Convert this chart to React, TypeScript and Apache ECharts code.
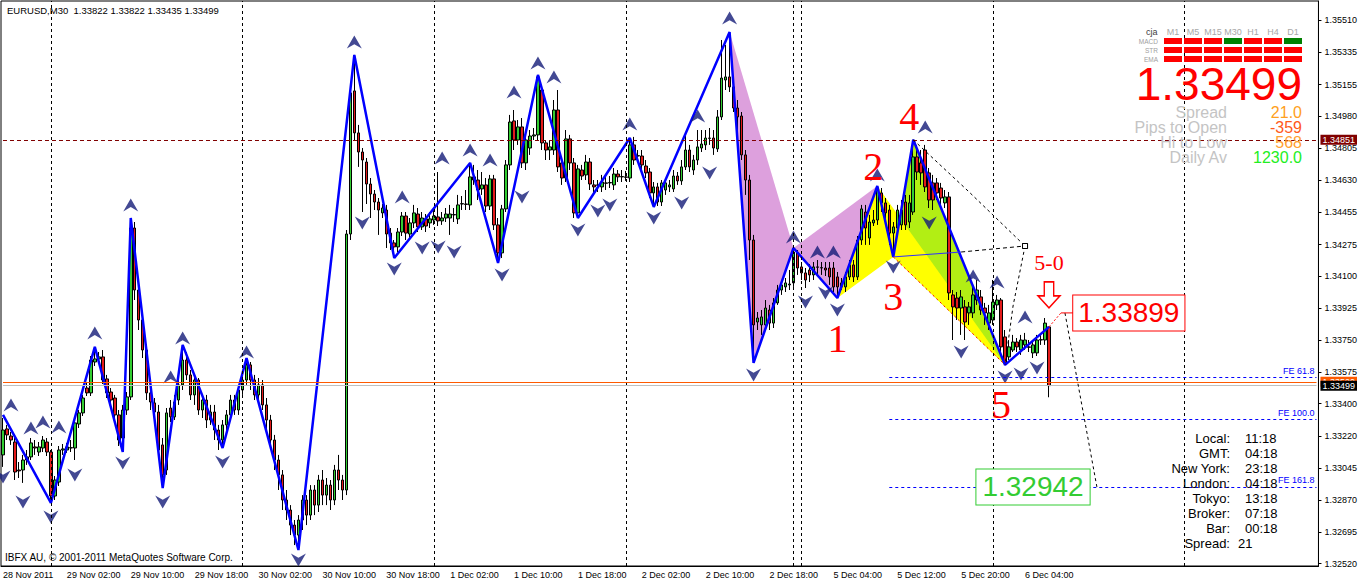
import { useEffect, useRef } from "react";
import * as echarts from "echarts";

const SANS = '"Liberation Sans", Arial, sans-serif';
const SERIF = '"Liberation Serif", "Times New Roman", serif';

const symbolTitle = "EURUSD,M30  1.33822 1.33822 1.33435 1.33499";
const copyright = "IBFX AU, \u00A9 2001-2011 MetaQuotes Software Corp.";

const TOTAL_BARS = 330;
const LABEL_EVERY = 16;
const timeLabels = [
  "28 Nov 2011", "29 Nov 02:00", "29 Nov 10:00", "29 Nov 18:00", "30 Nov 02:00",
  "30 Nov 10:00", "30 Nov 18:00", "1 Dec 02:00", "1 Dec 10:00", "1 Dec 18:00",
  "2 Dec 02:00", "2 Dec 10:00", "2 Dec 18:00", "5 Dec 04:00", "5 Dec 12:00",
  "5 Dec 20:00", "6 Dec 04:00",
];
const priceTicks = [
  1.3252, 1.32695, 1.3287, 1.33045, 1.3322, 1.334, 1.33575, 1.3375, 1.33925,
  1.341, 1.34275, 1.34455, 1.3463, 1.34805, 1.3498, 1.35155, 1.35335, 1.3551,
];

// [open, close, low, high]
const candles = [
  [1.33118,1.33255,1.33052,1.33321],[1.33261,1.33228,1.332,1.33283],[1.33222,1.332,1.33173,1.33244],[1.33189,1.33024,1.3298,1.33211],
  [1.33035,1.3303,1.32991,1.33079],[1.33035,1.3309,1.32964,1.33118],[1.3309,1.33107,1.33063,1.33145],[1.33107,1.33184,1.3309,1.33211],
  [1.33162,1.33156,1.33118,1.332],[1.33134,1.33162,1.33112,1.33189],[1.33156,1.332,1.33134,1.33222],[1.33189,1.33134,1.33112,1.33211],
  [1.33134,1.32892,1.32854,1.33145],[1.32892,1.3298,1.3287,1.33002],[1.32969,1.33145,1.32947,1.33167],[1.33145,1.33151,1.33118,1.33178],
  [1.33145,1.33162,1.33129,1.33184],[1.33156,1.33158,1.33134,1.332],[1.33156,1.33294,1.3309,1.3331],[1.33288,1.33349,1.33266,1.33365],
  [1.33349,1.33431,1.33332,1.33448],[1.33486,1.33459,1.33442,1.33514],[1.33459,1.3364,1.33442,1.33662],[1.33629,1.33646,1.33607,1.33712],
  [1.33646,1.33657,1.33629,1.33684],[1.33657,1.3353,1.33508,1.33695],[1.33536,1.33459,1.33431,1.33558],[1.33464,1.3342,1.33398,1.33486],
  [1.33431,1.33338,1.3331,1.33448],[1.33338,1.332,1.33167,1.33365],[1.33211,1.33365,1.33134,1.33393],[1.33365,1.33437,1.33338,1.33464],
  [1.33437,1.34366,1.3342,1.34421],[1.34366,1.34025,1.3397,1.34399],[1.34025,1.3386,1.33805,1.34069],[1.3386,1.33695,1.33651,1.33904],
  [1.33695,1.33459,1.3342,1.33723],[1.33459,1.33409,1.33365,1.33486],[1.33404,1.33354,1.33321,1.33431],[1.33354,1.33145,1.33101,1.33393],
  [1.33173,1.33008,1.32936,1.33211],[1.33035,1.33349,1.33008,1.33376],[1.33376,1.33327,1.33299,1.3342],[1.33327,1.33409,1.3331,1.33448],
  [1.3342,1.33503,1.33393,1.3353],[1.33503,1.3364,1.33475,1.33723],[1.3364,1.33558,1.3353,1.33684],[1.33558,1.33448,1.3342,1.33585],
  [1.33448,1.3353,1.33393,1.33558],[1.3353,1.33365,1.33338,1.33541],[1.33365,1.3342,1.33321,1.33448],[1.3342,1.3331,1.33266,1.33448],
  [1.3331,1.33354,1.33283,1.33393],[1.33354,1.33255,1.332,1.33393],[1.33255,1.332,1.33145,1.33283],[1.332,1.33283,1.33156,1.3331],
  [1.33283,1.33338,1.33255,1.33365],[1.33338,1.3342,1.3331,1.33448],[1.3342,1.33365,1.33338,1.33448],[1.33365,1.33475,1.33338,1.33503],
  [1.33475,1.3353,1.33448,1.33574],[1.3353,1.33613,1.33503,1.33651],[1.33613,1.3353,1.33475,1.33629],[1.3353,1.33448,1.3342,1.33558],
  [1.33448,1.33503,1.33393,1.33541],[1.33503,1.33393,1.33365,1.3353],[1.33393,1.3331,1.33255,1.33431],[1.3331,1.332,1.33156,1.33338],
  [1.332,1.3309,1.33035,1.33228],[1.3309,1.33008,1.32925,1.33118],[1.33008,1.3287,1.32815,1.33035],[1.3287,1.32815,1.3276,1.32925],
  [1.32815,1.32732,1.32677,1.32842],[1.32732,1.32677,1.32622,1.3276],[1.32677,1.3276,1.32595,1.32787],[1.3276,1.3287,1.32705,1.32897],
  [1.3287,1.32787,1.32732,1.32897],[1.32787,1.32925,1.3276,1.32952],[1.32925,1.32842,1.32787,1.32952],[1.32842,1.3298,1.32804,1.33008],
  [1.3298,1.32897,1.32842,1.33035],[1.32897,1.32952,1.32842,1.32991],[1.32952,1.3287,1.32815,1.3298],[1.3287,1.33035,1.32842,1.33063],
  [1.33035,1.3298,1.32925,1.33118],[1.3298,1.32925,1.3287,1.33008],[1.32925,1.34333,1.32897,1.34355],[1.34333,1.35109,1.343,1.35153],
  [1.3512,1.34889,1.3485,1.35318],[1.34889,1.34784,1.34702,1.34933],[1.34784,1.3474,1.34454,1.34806],[1.34729,1.34608,1.34498,1.34751],
  [1.34608,1.34553,1.34421,1.34641],[1.34553,1.34509,1.34465,1.34575],[1.34509,1.34465,1.34328,1.34531],[1.34449,1.34476,1.34421,1.34498],
  [1.34465,1.34333,1.34256,1.34493],[1.34338,1.34284,1.34245,1.34366],[1.34284,1.34262,1.34201,1.343],[1.34262,1.34344,1.34234,1.34366],
  [1.34344,1.34432,1.34322,1.34454],[1.34432,1.34338,1.343,1.34454],[1.34333,1.34394,1.34311,1.34421],[1.34394,1.34449,1.34366,1.34493],
  [1.34443,1.34372,1.34344,1.34476],[1.34372,1.34421,1.34355,1.34454],[1.34416,1.34377,1.34344,1.34443],[1.34394,1.34416,1.34366,1.34454],
  [1.3441,1.34432,1.34383,1.34465],[1.34427,1.34405,1.34377,1.34674],[1.34405,1.34421,1.34383,1.34454],[1.34421,1.34443,1.34399,1.34476],
  [1.34421,1.34443,1.34328,1.34493],[1.34438,1.3444,1.34399,1.34476],[1.34416,1.34493,1.34388,1.34548],[1.34498,1.345,1.34465,1.34542],
  [1.34498,1.34496,1.34465,1.34575],[1.34493,1.34647,1.34465,1.34724],[1.34647,1.3463,1.34603,1.34713],[1.3463,1.34575,1.3452,1.34685],
  [1.34581,1.34603,1.34548,1.34674],[1.34603,1.34487,1.34454,1.34641],[1.34487,1.34636,1.34465,1.34658],[1.34636,1.34383,1.34355,1.34658],
  [1.34383,1.34229,1.34174,1.34421],[1.34229,1.34471,1.34201,1.34493],[1.34471,1.34713,1.34454,1.3474],[1.34713,1.34949,1.34685,1.34988],
  [1.34955,1.3485,1.34795,1.35015],[1.3485,1.34922,1.34823,1.3496],[1.34922,1.34724,1.34696,1.34971],[1.34724,1.3485,1.34685,1.34878],
  [1.34806,1.34872,1.34768,1.34905],[1.34872,1.34878,1.3485,1.34916],[1.34878,1.35197,1.3485,1.35208],[1.35125,1.34834,1.34795,1.35153],
  [1.34834,1.34795,1.3474,1.3485],[1.34795,1.34812,1.3474,1.3485],[1.34795,1.35015,1.34768,1.3507],[1.35015,1.34702,1.34674,1.35125],
  [1.34724,1.34641,1.34603,1.34751],[1.34641,1.34856,1.34619,1.34905],[1.34856,1.34724,1.34685,1.34878],[1.34724,1.34449,1.34421,1.34751],
  [1.34449,1.34691,1.34421,1.34713],[1.34685,1.34652,1.3463,1.34713],[1.34658,1.34729,1.3463,1.34768],[1.34729,1.34608,1.34575,1.34751],
  [1.34603,1.34592,1.34548,1.3463],[1.34603,1.34601,1.34564,1.3463],[1.34592,1.34619,1.34564,1.34658],[1.34614,1.34612,1.34575,1.34652],
  [1.34614,1.34616,1.34586,1.34652],[1.34603,1.34663,1.34575,1.34696],[1.34663,1.34647,1.34619,1.34685],[1.34647,1.34649,1.34619,1.34685],
  [1.34647,1.34645,1.34625,1.3468],[1.34641,1.34823,1.34619,1.34861],[1.34823,1.3474,1.34713,1.34867],[1.34762,1.34764,1.34729,1.34795],
  [1.34762,1.34713,1.34674,1.34795],[1.34707,1.34669,1.34641,1.3474],[1.34674,1.34559,1.34531,1.34696],[1.34559,1.34592,1.34482,1.34619],
  [1.34592,1.34509,1.34487,1.34614],[1.34509,1.34614,1.34487,1.3463],[1.34575,1.34614,1.34548,1.34641],[1.34592,1.34603,1.34564,1.3463],
  [1.34581,1.34652,1.34564,1.34685],[1.34652,1.34625,1.34603,1.34674],[1.34625,1.34702,1.34603,1.3474],[1.34702,1.34795,1.34685,1.34878],
  [1.34795,1.34702,1.34674,1.34823],[1.34685,1.3474,1.34658,1.34768],[1.3474,1.34812,1.34713,1.34905],[1.34806,1.34828,1.34784,1.34905],
  [1.34823,1.34861,1.34795,1.34905],[1.34861,1.34859,1.34823,1.34916],[1.34861,1.34806,1.34768,1.34905],[1.34801,1.34977,1.34784,1.35015],
  [1.34977,1.35191,1.3496,1.354],[1.3518,1.35197,1.35125,1.35373],[1.35197,1.35142,1.35114,1.35444],[1.35142,1.35026,1.35004,1.3518],
  [1.35026,1.34977,1.34905,1.3507],[1.34982,1.34768,1.3474,1.35004],[1.34768,1.3463,1.34548,1.34795],[1.3463,1.343,1.3419,1.34658],
  [1.343,1.33833,1.33624,1.34328],[1.33849,1.33871,1.33805,1.33904],[1.33833,1.33877,1.33778,1.33915],[1.33833,1.33926,1.33805,1.3397],
  [1.33915,1.33843,1.33805,1.33943],[1.33843,1.33954,1.33816,1.33981],[1.33954,1.34025,1.33943,1.34053],[1.34025,1.34053,1.33998,1.3408],
  [1.34042,1.34064,1.34014,1.34091],[1.34053,1.34058,1.34025,1.34135],[1.34064,1.34234,1.34042,1.34256],[1.34229,1.34146,1.34108,1.34245],
  [1.34152,1.34119,1.3408,1.34179],[1.34119,1.3408,1.34036,1.34146],[1.34135,1.34108,1.34069,1.34168],[1.34108,1.34152,1.3408,1.34179],
  [1.34152,1.3415,1.34108,1.3419],[1.34146,1.34148,1.34108,1.34179],[1.34146,1.34135,1.34102,1.34179],[1.34146,1.34097,1.34053,1.34179],
  [1.34146,1.34042,1.34014,1.34179],[1.34097,1.34042,1.33981,1.34124],[1.34042,1.34064,1.34025,1.34091],[1.34042,1.34097,1.34014,1.34124],
  [1.34097,1.34163,1.3408,1.3419],[1.34163,1.34097,1.34069,1.3419],[1.34097,1.343,1.3408,1.34322],[1.343,1.34471,1.34273,1.34493],
  [1.34454,1.34366,1.34273,1.34493],[1.34311,1.34399,1.34273,1.34438],[1.34394,1.3441,1.34377,1.34465],[1.3441,1.34575,1.34383,1.34597],
  [1.34559,1.34504,1.34454,1.34586],[1.34504,1.34449,1.3441,1.34531],[1.34465,1.34338,1.34273,1.34493],[1.34338,1.34372,1.34207,1.34399],
  [1.34366,1.34465,1.34328,1.34493],[1.34383,1.34465,1.34355,1.3452],[1.34509,1.34383,1.34355,1.34548],[1.34399,1.34504,1.34366,1.34548],
  [1.34454,1.34757,1.34438,1.34851],[1.34757,1.34674,1.3463,1.34823],[1.34724,1.34669,1.34603,1.34795],[1.34795,1.34592,1.34564,1.34823],
  [1.34669,1.3452,1.34476,1.34696],[1.34614,1.3452,1.34465,1.34658],[1.34614,1.34559,1.3452,1.34641],[1.34586,1.34531,1.34493,1.34614],
  [1.34504,1.34537,1.34476,1.34575],[1.34537,1.34009,1.3397,1.34564],[1.33998,1.33932,1.3375,1.34025],[1.33981,1.33926,1.3386,1.34014],
  [1.33926,1.33987,1.33778,1.34025],[1.33932,1.33849,1.3375,1.3397],[1.33899,1.33932,1.33833,1.33959],[1.33899,1.33998,1.33871,1.34053],
  [1.3397,1.34025,1.33943,1.3408],[1.33987,1.33915,1.33888,1.34025],[1.33926,1.33899,1.33833,1.33954],[1.33843,1.33899,1.33805,1.33943],
  [1.3386,1.33959,1.33833,1.3408],[1.33943,1.3397,1.33915,1.33998],[1.3397,1.33712,1.33668,1.33981],[1.33767,1.33624,1.33613,1.33805],
  [1.33657,1.33712,1.3364,1.33749],[1.33695,1.33739,1.33684,1.33778],[1.33739,1.33712,1.33684,1.33761],[1.33695,1.3375,1.33668,1.33778],
  [1.33723,1.3375,1.33695,1.33789],[1.33712,1.3371,1.33684,1.3375],[1.33679,1.33723,1.33651,1.3375],[1.33679,1.3375,1.33662,1.33778],
  [1.3375,1.33752,1.33723,1.33778],[1.3375,1.33843,1.33723,1.33871],[1.33822,1.33499,1.33435,1.33822],
];

// zigzag vertices [bar index, price]
const zigzag = [
  [0, 1.33338], [12, 1.32854], [23, 1.33712], [30, 1.33134], [32, 1.34421], [40, 1.32936],
  [45, 1.33723], [55, 1.33156], [61, 1.33651], [74, 1.32595], [88, 1.35318], [98, 1.34201],
  [117, 1.34724], [124, 1.34174], [134, 1.35208], [144, 1.34421], [157, 1.34861], [163, 1.34482],
  [182, 1.35444], [188, 1.33624], [198, 1.34256], [209, 1.33981], [219, 1.34597], [223, 1.34207],
  [228, 1.34851], [251, 1.33613], [262, 1.33822],
];

const fractalsUp = [
  [2, 1.33393], [7, 1.33266], [10, 1.33299], [14, 1.33272], [23, 1.33789], [32, 1.34493], [42, 1.33547],
  [45, 1.33761], [61, 1.33684], [88, 1.35389], [100, 1.34537], [110, 1.34751], [117, 1.34795], [122, 1.3474],
  [128, 1.35114], [134, 1.35273], [138, 1.35197], [157, 1.34938], [174, 1.34982], [182, 1.35521], [198, 1.34317],
  [204, 1.34234], [208, 1.34234], [219, 1.34658], [231, 1.34922], [243, 1.34102], [249, 1.34069], [256, 1.33877],
];
const fractalsDown = [
  [0, 1.32997], [5, 1.32859], [12, 1.32777], [18, 1.33008], [30, 1.33073], [40, 1.32859], [55, 1.33079],
  [74, 1.3254], [90, 1.34394], [98, 1.34141], [105, 1.34256], [109, 1.34262], [113, 1.34234], [125, 1.34108],
  [130, 1.34537], [144, 1.34355], [149, 1.3446], [152, 1.34493], [163, 1.34421], [170, 1.34504], [177, 1.34669],
  [188, 1.33558], [201, 1.33959], [206, 1.34009], [209, 1.33915], [223, 1.34152], [232, 1.34394], [240, 1.33684],
  [251, 1.33547], [255, 1.33563], [259, 1.33596],
];

const daySeparators = [12, 60, 108, 156, 198, 200, 248, 296];

// pattern points [bar, price]
const ptX = [182, 1.35444];
const ptA = [188, 1.33624];
const ptB = [198, 1.34256];
const pt1 = [209, 1.33981];
const pt2 = [219, 1.34597];
const pt3 = [223, 1.34207];
const pt4 = [228, 1.34851];
const pt5 = [251, 1.33613];
const triangles = [[ptX, ptA, ptB], [ptB, pt1, pt2], [pt1, pt2, pt3], [pt3, pt4, pt5], [pt2, pt3, pt5]];

const lineFrom4 = [[228, 1.34851], [242, 1.34564], [256, 1.34267]];
const line50Back = [[256, 1.34267], [253, 1.33937], [251, 1.33613]];
const line3to50Solid = [[223, 1.34207], [240, 1.34234]];
const line3to50Dash = [[240, 1.34234], [256, 1.34267]];
const line3to5 = [[223, 1.34207], [251, 1.33613]];
const projection = [[266, 1.33899], [270, 1.3342], [274, 1.32942]];
const redLink = [[262, 1.33822], [265, 1.33899]];
const redLink2 = [[265, 1.33899], [268, 1.33899]];

const feLevels = [1.33544, 1.33314, 1.32942];
const feNames = ["FE 61.8", "FE 100.0", "FE 161.8"];
const FE_START = 222;

const dayHigh = 1.34851;
const askPrice = 1.3352;
const bidPrice = 1.33499;

const annotationTexts = ["1", "2", "3", "4", "5", "5-0", "1.33899", "1.32942"];
const annotationCoords = [
  [209, 1.33761], [218, 1.34707], [223, 1.33987], [227, 1.34977], [250, 1.33393],
  [262, 1.34179], [282, 1.33899], [258, 1.32942],
];
const arrowMark = [262, 1.33998];

const tfLabels = ["M1", "M5", "M15", "M30", "H1", "H4", "D1"];
const signalRows = ["MACD", "STR", "EMA"];
const signalStates = [[0, 0, 0, 1, 0, 0, 1], [0, 0, 0, 0, 0, 0, 0], [0, 0, 0, 0, 0, 0, 0]];
const lastPrice = "1.33499";
const statLabels = ["Spread", "Pips to Open", "Hi to Low", "Daily Av"];
const statValues = ["21.0", "-359", "568", "1230.0"];
const clockLabels = ["Local:", "GMT:", "New York:", "London:", "Tokyo:", "Broker:", "Bar:", "Spread:"];
const clockValues = ["11:18", "04:18", "23:18", "04:18", "13:18", "07:18", "00:18", "21"];

function txt(x: number, y: number, text: string, font: string, fill: string, align: string, lineHeight?: number): any {
  const style: any = { text, font, fill, align, textAlign: align, verticalAlign: "middle", textVerticalAlign: "middle" };
  if (lineHeight) style.lineHeight = lineHeight;
  return { type: "text", x, y, silent: true, z: 100, style };
}

function hLine(level: number, color: string, type: any, labelText: string, labelBg: string): any {
  return [
    {
      coord: [0, level], lineStyle: { color, type, width: 1 },
      label: { show: true, position: "end", distance: 4, formatter: labelText, backgroundColor: labelBg, color: "#fff", fontSize: 9, fontFamily: SANS, padding: [1, 2, 0, 2] },
    },
    { coord: [TOTAL_BARS - 1, level] },
  ];
}

function buildOption(): any {
  const showLabel = (i: number) => i % LABEL_EVERY === 0 && i / LABEL_EVERY < timeLabels.length;
  const numStyle = { fill: "#ff0000", font: `40px ${SERIF}` };
  const annotationStyles: any[] = [
    numStyle, numStyle, numStyle, numStyle, numStyle,
    { fill: "#ff0000", font: `22px ${SERIF}` },
    { fill: "#ff0000", font: `28px ${SANS}`, backgroundColor: "#fff", borderColor: "#ff0000", borderWidth: 1, padding: [4, 5, 3, 5] },
    { fill: "#33cc33", font: `28px ${SANS}`, backgroundColor: "#fff", borderColor: "#33cc33", borderWidth: 1, padding: [4, 6, 3, 6] },
  ];
  const triColors = ["#dda0dd", "#dda0dd", "#ffff00", "#b2ee14", "#ffff00"];
  const statColors = ["#ffa020", "#ff5a1a", "#ffa030", "#22ee22"];

  const graphics: any[] = [];
  graphics.push(txt(7, 10, symbolTitle, `9.5px ${SANS}`, "#000", "left"));
  graphics.push(txt(5, 557, copyright, `10px ${SANS}`, "#000", "left"));
  graphics.push(txt(1146, 32, "cja", `9px ${SANS}`, "#404040", "left"));
  tfLabels.forEach((t, k) => graphics.push(txt(1173 + 20 * k, 32, t, `9px ${SANS}`, "#a8a8a8", "center")));
  signalRows.forEach((r, j) => {
    graphics.push(txt(1158, 41 + 9 * j, r, `6.5px ${SANS}`, "#a0a0a0", "right", 7));
    signalStates[j].forEach((s, k) =>
      graphics.push({ type: "rect", silent: true, z: 100, shape: { x: 1164 + 20 * k, y: 38 + 9 * j, width: 18, height: 6 }, style: { fill: s ? "#008000" : "#ff0000" } })
    );
  });
  graphics.push(txt(1302, 84, lastPrice, `46px ${SANS}`, "#ff0000", "right", 34));
  statLabels.forEach((l, k) => {
    graphics.push(txt(1227, 112 + 15 * k, l, `16px ${SANS}`, "#c4c4c4", "right", 14));
    graphics.push(txt(1302, 112 + 15 * k, statValues[k], `16px ${SANS}`, statColors[k], "right", 14));
  });
  clockLabels.forEach((l, k) => {
    graphics.push(txt(1230, 438 + 15 * k, l, `13px ${SANS}`, "#000", "right"));
    graphics.push(txt(k === 7 ? 1238 : 1245, 438 + 15 * k, clockValues[k], `13px ${SANS}`, "#000", "left"));
  });

  const dashedSeries = (data: any[], color: string, type: any, squares: boolean, z = 5, width = 1) => ({
    type: "line", data, z, silent: true, showSymbol: squares, symbol: "rect", symbolSize: 5,
    itemStyle: { color: "#fff", borderColor: color, borderWidth: 1 },
    lineStyle: { color, type, width },
  });

  return {
    animation: false,
    backgroundColor: "#fff",
    grid: { left: 1, right: 39, top: 1, bottom: 17, show: true, borderColor: "#000", borderWidth: 1 },
    xAxis: {
      type: "category",
      data: Array.from({ length: TOTAL_BARS }, (_, i) => String(i)),
      boundaryGap: true,
      axisLine: { lineStyle: { color: "#000" } },
      axisTick: { alignWithLabel: true, interval: (i: number) => showLabel(i), length: 3, lineStyle: { color: "#000" } },
      axisLabel: {
        interval: (i: number) => showLabel(i),
        formatter: (v: string) => timeLabels[Number(v) / LABEL_EVERY] ?? "",
        align: "left", fontSize: 9, fontFamily: SANS, color: "#000", margin: 4,
      },
      splitLine: { show: false },
    },
    yAxis: {
      type: "value", position: "right", min: 1.32507, max: 1.356145,
      axisLine: { show: true, lineStyle: { color: "#000" } },
      axisTick: { show: true, customValues: priceTicks, length: 3, lineStyle: { color: "#000" } },
      axisLabel: { customValues: priceTicks, formatter: (v: number) => v.toFixed(5), fontSize: 9, fontFamily: SANS, color: "#000", margin: 6 },
      splitLine: { show: false },
    },
    graphic: { elements: graphics },
    series: [
      {
        type: "line", data: [[0, 1.34]], z: 0, silent: true, showSymbol: false, lineStyle: { opacity: 0 },
        markLine: {
          silent: true, symbol: ["none", "none"], animation: false,
          data: [
            ...daySeparators.map((i) => ({ xAxis: i, lineStyle: { color: "#000", type: [3, 3], width: 1 }, label: { show: false } })),
            hLine(dayHigh, "#800000", [4, 3], "1.34851", "#800000"),
            hLine(askPrice, "#ff5a00", "solid", "1.33520", "#ff5a00"),
            hLine(bidPrice, "#c0c0c0", "solid", "1.33499", "#000"),
            ...feLevels.map((lv, k) => [
              { coord: [FE_START, lv], lineStyle: { color: "#0000ff", type: [3, 3], width: 1 },
                label: { show: true, position: "insideEndTop", formatter: feNames[k], color: "#0000ff", fontSize: 9, fontFamily: SANS, distance: 2 } },
              { coord: [TOTAL_BARS - 1, lv] },
            ]),
          ],
        },
      },
      {
        type: "custom", z: 1, silent: true,
        data: triangles.map((t) => [t[0][0], t[0][1], t[1][0], t[1][1], t[2][0], t[2][1]]),
        encode: { x: [0, 2, 4], y: [1, 3, 5] },
        renderItem: (params: any, api: any) => {
          const pts = [0, 1, 2].map((k) => api.coord([api.value(2 * k), api.value(2 * k + 1)]));
          return { type: "polygon", shape: { points: pts }, style: { fill: triColors[params.dataIndex], stroke: "none" } };
        },
      },
      {
        type: "candlestick", data: candles, z: 2, barWidth: 3, silent: true,
        itemStyle: { color: "#32cd32", color0: "#e31b1b", borderColor: "#000", borderColor0: "#000", borderWidth: 1 },
      },
      {
        type: "line", data: zigzag, z: 3, silent: true, showSymbol: false,
        lineStyle: { color: "#0000ff", width: 2.5 },
        markPoint: {
          silent: true, animation: false,
          data: [{ coord: arrowMark, symbol: "path://M6,0 L15,0 L15,14 L21,14 L10.5,26 L0,14 L6,14 Z", symbolSize: [22, 26],
            itemStyle: { color: "#fff", borderColor: "#ff0000", borderWidth: 1.5 }, label: { show: false } }],
        },
      },
      {
        type: "scatter", data: fractalsUp, z: 4, silent: true,
        symbol: "path://M7,0 L14,12 L7,8 L0,12 Z", symbolSize: [15, 13],
        itemStyle: { color: "#141c78" },
      },
      {
        type: "scatter", data: fractalsDown, z: 4, silent: true,
        symbol: "path://M0,0 L7,4 L14,0 L7,12 Z", symbolSize: [15, 13],
        itemStyle: { color: "#141c78" },
      },
      dashedSeries(lineFrom4, "#000", [3, 3], true),
      dashedSeries(line50Back.map((p, i) => (i === 2 ? { value: p, symbol: "none" } : p)), "#000", [3, 3], true),
      dashedSeries(line3to50Solid, "#3030ff", "solid", false),
      dashedSeries(line3to50Dash, "#000", [4, 3], false),
      dashedSeries(line3to5, "#ff0000", [2, 3], false),
      dashedSeries(projection, "#000", [3, 3], true),
      dashedSeries(redLink, "#ff0000", [2, 2], false),
      dashedSeries(redLink2.map((p, i) => (i === 1 ? { value: p, symbol: "none" } : p)), "#ff0000", "solid", true),
      {
        type: "custom", z: 6, silent: true,
        data: annotationCoords.map((c, i) => [c[0], c[1], i]),
        encode: { x: 0, y: 1 },
        renderItem: (params: any, api: any) => {
          const i = api.value(2);
          const p = api.coord([api.value(0), api.value(1)]);
          return {
            type: "text", x: p[0], y: p[1],
            style: { text: annotationTexts[i], ...annotationStyles[i], align: "center", textAlign: "center", verticalAlign: "middle", textVerticalAlign: "middle" },
          };
        },
      },
    ],
  };
}

export default function App() {
  const ref = useRef<HTMLDivElement>(null);
  useEffect(() => {
    const chart = echarts.init(ref.current as HTMLDivElement, undefined, { renderer: "svg" });
    chart.setOption(buildOption());
    return () => chart.dispose();
  }, []);
  return <div ref={ref} style={{ position: "fixed", left: 0, top: 0, width: 1360, height: 583, background: "#fff" }} />;
}
